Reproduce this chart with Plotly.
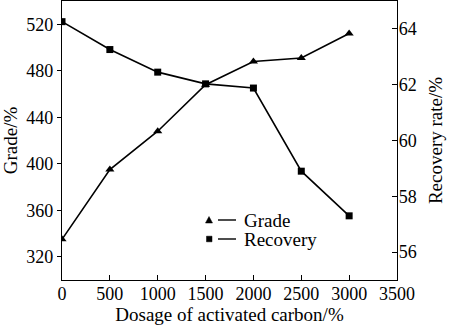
import plotly.graph_objects as go

dosage = [0, 500, 1000, 1500, 2000, 2500, 3000]
grade = [335, 395, 428, 468, 488, 491, 512]
recovery = [64.26, 63.26, 62.45, 62.03, 61.88, 58.9, 57.3]
legend_names = ["Grade", "Recovery"]

FONT = "Liberation Serif"
TF = dict(family=FONT, size=18, color="black")
TT = dict(family=FONT, size=19, color="black")
fig = go.Figure()
fig.add_trace(go.Scatter(x=dosage, y=grade, name=legend_names[0], mode="lines+markers",
                         line=dict(color="black", width=1.6), showlegend=False,
                         marker=dict(symbol="triangle-up", size=8, color="black")))
fig.add_trace(go.Scatter(x=dosage, y=recovery, name=legend_names[1], mode="lines+markers",
                         yaxis="y2", showlegend=False,
                         line=dict(color="black", width=1.6),
                         marker=dict(symbol="square", size=7, color="black")))

# custom legend (marker, then short line, then label) in paper coordinates
X0, W, YB, H = 62, 335, 280, 279
def px(x):
    return (x - X0) / W
def py(y):
    return (YB - y) / H

shapes = []
annotations = []
rows = [(220, "triangle"), (239, "square")]
for (yy, sym), name in zip(rows, legend_names):
    if sym == "triangle":
        path = f"M {px(205.5)},{py(yy+3)} L {px(212.5)},{py(yy+3)} L {px(209)},{py(yy-3.5)} Z"
        shapes.append(dict(type="path", xref="paper", yref="paper", path=path,
                           fillcolor="black", line=dict(color="black", width=0.5)))
    else:
        shapes.append(dict(type="rect", xref="paper", yref="paper",
                           x0=px(206.5), x1=px(212), y0=py(yy+2.8), y1=py(yy-2.8),
                           fillcolor="black", line=dict(color="black", width=0.5)))
    shapes.append(dict(type="line", xref="paper", yref="paper",
                       x0=px(218), x1=px(236), y0=py(yy), y1=py(yy),
                       line=dict(color="black", width=1.4)))
    annotations.append(dict(xref="paper", yref="paper", x=px(242), y=py(yy),
                            xanchor="left", yanchor="middle", text=name,
                            showarrow=False, font=TT))

fig.update_layout(
    width=450, height=329,
    margin=dict(l=62, r=53, t=1, b=49),
    paper_bgcolor="white", plot_bgcolor="white",
    font=TF,
    showlegend=False,
    shapes=shapes, annotations=annotations,
    xaxis=dict(range=[0, 3500], tickvals=[0, 500, 1000, 1500, 2000, 2500, 3000, 3500],
               showline=True, linecolor="black", linewidth=1.2, mirror=True,
               ticks="inside", ticklen=5, tickcolor="black", showgrid=False, zeroline=False,
               ticklabelstandoff=-3,
               title=dict(text="Dosage of activated carbon/%", standoff=3, font=TT),
               tickfont=TF),
    yaxis=dict(range=[300, 540], tickvals=[320, 360, 400, 440, 480, 520],
               showline=True, linecolor="black", linewidth=1.2,
               ticks="outside", ticklen=4, tickcolor="black", showgrid=False, zeroline=False,
               title=dict(text="Grade/%", standoff=4, font=TT), tickfont=TF),
    yaxis2=dict(range=[55, 65], tickvals=[56, 58, 60, 62, 64], overlaying="y", side="right",
                showline=True, linecolor="black", linewidth=1.2,
                ticks="inside", ticklen=5, tickcolor="black", showgrid=False, zeroline=False,
                ticklabelstandoff=-3,
                title=dict(text="Recovery rate/%", standoff=12, font=TT), tickfont=TF),
)
fig.write_html("out.html")
